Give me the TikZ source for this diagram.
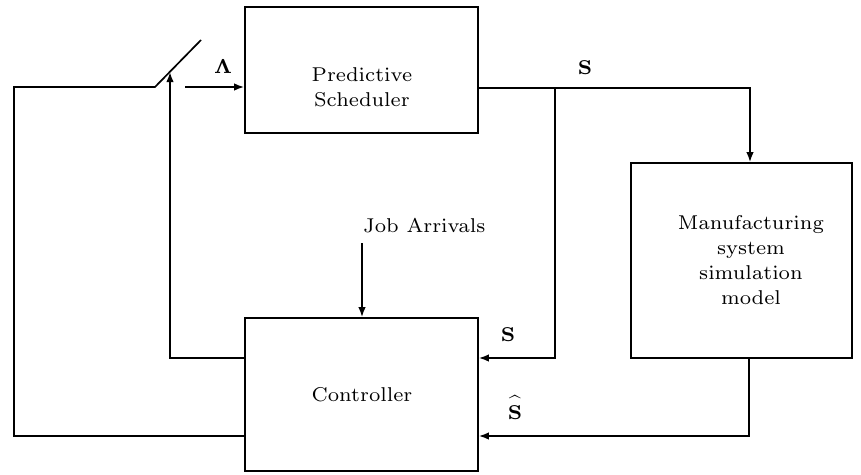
\documentclass[tikz,border=0pt]{standalone}
\usepackage{exscale}
\usetikzlibrary{arrows.meta,calc}
% wide, light text face and a bold face for the signal labels
\font\boxfont=cmr7 at 20pt
\font\lblfont=cmbx7 at 20pt
\begin{document}
\begin{tikzpicture}[x=1pt,y=-1pt,
  wire/.style={draw,line width=1.7pt,line join=miter},
  blk/.style={draw,line width=1.7pt,inner sep=0pt},
  txt/.style={font={\boxfont\baselineskip=25pt\relax},align=center,inner sep=0pt},
  sig/.style={font=\lblfont,inner sep=0pt},
  flow/.style={wire,-{Latex[length=10pt,width=7.5pt]}}]
\useasboundingbox (0,0) rectangle (861,474);

% blocks
\node[blk,minimum width=233pt,minimum height=126pt] (sched) at (361.5,70) {};
\node[blk,minimum width=221pt,minimum height=195pt] (mfg) at (741.5,260.5) {};
\node[blk,minimum width=233pt,minimum height=153pt] (ctrl) at (361.5,394.5) {};

% block texts
\node[txt] (schedtxt) at (362,87) {Predictive\\Scheduler};
\node[txt] (mfgtxt) at (751,260.5) {Manufacturing\\system\\simulation\\model};
\node[txt] (ctrltxt) at (362,395) {Controller};
\node[txt,anchor=base west] (jobs) at (363,232) {Job Arrivals};

% signal labels
\node[sig] (lam) at (223,67) {\char3};
\node[sig] (sout) at (585,68) {S};
\node[sig] (sfb) at (508,335) {S};
\node[sig,anchor=base] (shat) at (515,419)
  {\fontsize{20}{24}\selectfont$\widehat{\hbox{\lblfont\rule{0pt}{17pt}S}}$};

% switch and helper points
\coordinate (swL) at (155,87);
\coordinate (swR) at (201,40);
\coordinate (swIn) at (185,87);
\coordinate (upTip) at (170,72);
\coordinate (junc) at (555,88);
\coordinate (outR) at (750,88);
\coordinate (mfgOut) at (749,436);
\coordinate (jobTop) at (362,243);

% feedback loop through the switch
\draw[wire] (ctrl.west |- 0,436) -- (14,436) -- (14,87) -- (swL) -- (swR);
\draw[flow] (swIn) -- (sched.west |- swIn);
\draw[flow] (ctrl.west |- 0,358) -- (170,358) -- (upTip);

% schedule to the simulation model and back to the controller
\draw[flow] (sched.east |- junc) -- (outR) -- (mfg.north -| outR);
\draw[flow] (junc) -- (555,358) -- (ctrl.east |- 0,358);
\draw[flow] (mfg.south -| mfgOut) -- (mfgOut) -- (ctrl.east |- mfgOut);

% job arrivals
\draw[flow] (jobTop) -- (ctrl.north -| jobTop);
\end{tikzpicture}
\end{document}
